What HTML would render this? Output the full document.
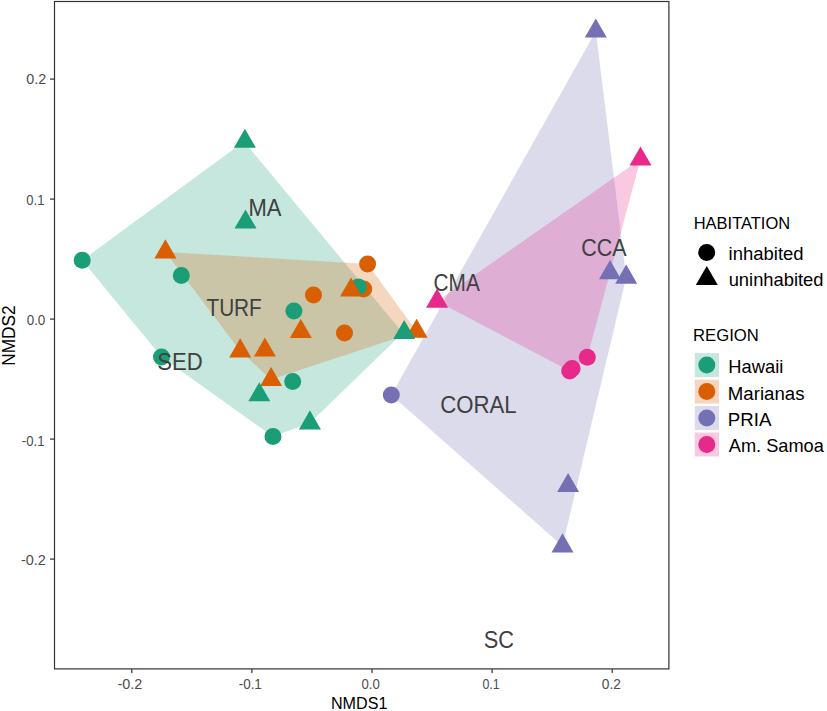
<!DOCTYPE html>
<html><head><meta charset="utf-8"><style>
html,body{margin:0;padding:0;background:#fff;}
svg{display:block;}
text{font-family:"Liberation Sans",sans-serif;}
.lab{fill:#404040;}
.ax{fill:#4D4D4D;}
.at{fill:#000;}
.lt{fill:#000;}
.ll{fill:#000;}
</style></head><body>
<svg width="827" height="711" viewBox="0 0 827 711">
<rect width="827" height="711" fill="#fff"/>
<polygon points="82.2,260.2 244.1,141.6 402.8,332.9 309.9,423.0 273.0,436.5 161.5,357.0" fill="#1B9E77" fill-opacity="0.25"/>
<polygon points="165.4,252.0 367.6,263.9 416.6,331.4 271.1,379.6 240.2,351.0" fill="#D95F02" fill-opacity="0.25"/>
<polygon points="391.3,395.0 595.8,31.3 626.2,277.3 562.5,546.0" fill="#7570B3" fill-opacity="0.25"/>
<polygon points="437.1,301.3 640.5,159.2 587.3,357.2 569.7,371.0" fill="#E7298A" fill-opacity="0.25"/>
<circle cx="313.5" cy="295.0" r="8.5" fill="#D95F02"/>
<circle cx="344.5" cy="332.9" r="8.5" fill="#D95F02"/>
<circle cx="367.6" cy="263.9" r="8.5" fill="#D95F02"/>
<circle cx="363.7" cy="288.9" r="8.5" fill="#D95F02"/>
<circle cx="82.2" cy="260.2" r="8.5" fill="#1B9E77"/>
<circle cx="181.3" cy="275.4" r="8.5" fill="#1B9E77"/>
<circle cx="161.5" cy="357.0" r="8.5" fill="#1B9E77"/>
<circle cx="293.9" cy="311.0" r="8.5" fill="#1B9E77"/>
<circle cx="292.7" cy="381.4" r="8.5" fill="#1B9E77"/>
<circle cx="273.0" cy="436.5" r="8.5" fill="#1B9E77"/>
<circle cx="358.3" cy="286.9" r="8.5" fill="#1B9E77"/>
<circle cx="391.3" cy="395.0" r="8.5" fill="#7570B3"/>
<circle cx="587.3" cy="357.2" r="8.5" fill="#E7298A"/>
<circle cx="569.7" cy="371.0" r="8.5" fill="#E7298A"/>
<circle cx="572.1" cy="368.6" r="8.5" fill="#E7298A"/>
<polygon points="165.4,239.3 176.4,258.4 154.4,258.4" fill="#D95F02"/>
<polygon points="240.2,338.3 251.2,357.4 229.2,357.4" fill="#D95F02"/>
<polygon points="264.9,337.5 275.9,356.6 253.9,356.6" fill="#D95F02"/>
<polygon points="300.8,318.9 311.8,338.0 289.8,338.0" fill="#D95F02"/>
<polygon points="271.1,366.9 282.1,386.0 260.1,386.0" fill="#D95F02"/>
<polygon points="351.0,277.5 362.0,296.6 340.0,296.6" fill="#D95F02"/>
<polygon points="416.6,318.7 427.6,337.8 405.6,337.8" fill="#D95F02"/>
<polygon points="244.9,128.8 255.9,147.8 233.9,147.8" fill="#1B9E77"/>
<polygon points="245.5,209.4 256.5,228.4 234.5,228.4" fill="#1B9E77"/>
<polygon points="259.3,382.2 270.3,401.2 248.3,401.2" fill="#1B9E77"/>
<polygon points="309.9,410.3 320.9,429.4 298.9,429.4" fill="#1B9E77"/>
<polygon points="404.2,320.0 415.2,339.1 393.2,339.1" fill="#1B9E77"/>
<polygon points="595.8,18.6 606.8,37.6 584.8,37.6" fill="#7570B3"/>
<polygon points="610.0,260.1 621.0,279.2 599.0,279.2" fill="#7570B3"/>
<polygon points="626.2,264.6 637.2,283.7 615.2,283.7" fill="#7570B3"/>
<polygon points="568.1,472.9 579.1,492.0 557.1,492.0" fill="#7570B3"/>
<polygon points="562.5,533.3 573.5,552.4 551.5,552.4" fill="#7570B3"/>
<polygon points="640.5,146.5 651.5,165.5 629.5,165.5" fill="#E7298A"/>
<polygon points="437.1,288.6 448.1,307.7 426.1,307.7" fill="#E7298A"/>
<rect x="54.5" y="1.5" width="614.4" height="667.4" fill="none" stroke="#333" stroke-width="1.2"/>
<line x1="131.8" y1="669" x2="131.8" y2="673" stroke="#333" stroke-width="1.2"/>
<line x1="251.9" y1="669" x2="251.9" y2="673" stroke="#333" stroke-width="1.2"/>
<line x1="372.0" y1="669" x2="372.0" y2="673" stroke="#333" stroke-width="1.2"/>
<line x1="492.1" y1="669" x2="492.1" y2="673" stroke="#333" stroke-width="1.2"/>
<line x1="612.2" y1="669" x2="612.2" y2="673" stroke="#333" stroke-width="1.2"/>
<line x1="50" y1="559.1" x2="54.5" y2="559.1" stroke="#333" stroke-width="1.2"/>
<line x1="50" y1="439.1" x2="54.5" y2="439.1" stroke="#333" stroke-width="1.2"/>
<line x1="50" y1="319.1" x2="54.5" y2="319.1" stroke="#333" stroke-width="1.2"/>
<line x1="50" y1="199.1" x2="54.5" y2="199.1" stroke="#333" stroke-width="1.2"/>
<line x1="50" y1="79.1" x2="54.5" y2="79.1" stroke="#333" stroke-width="1.2"/>
<circle cx="706.7" cy="252.4" r="8.5" fill="#000"/>
<polygon points="706.8,266.0 717.8,285.1 695.8,285.1" fill="#000"/>
<rect x="694.8" y="353.1" width="24.2" height="24" fill="#1B9E77" fill-opacity="0.25"/>
<circle cx="706.8" cy="365.1" r="8.5" fill="#1B9E77"/>
<rect x="694.8" y="379.6" width="24.2" height="24" fill="#D95F02" fill-opacity="0.25"/>
<circle cx="706.8" cy="391.6" r="8.5" fill="#D95F02"/>
<rect x="694.8" y="406.0" width="24.2" height="24" fill="#7570B3" fill-opacity="0.25"/>
<circle cx="706.8" cy="418.0" r="8.5" fill="#7570B3"/>
<rect x="694.8" y="432.5" width="24.2" height="24" fill="#E7298A" fill-opacity="0.25"/>
<circle cx="706.8" cy="444.5" r="8.5" fill="#E7298A"/>
<text transform="translate(248.45,216.25) scale(1.0474,1.106)" font-size="21" class="lab">MA</text>
<text transform="translate(206.45,316.45) scale(0.9894,1.106)" font-size="21" class="lab">TURF</text>
<text transform="translate(157.35,370.45) scale(1.0533,1.106)" font-size="21" class="lab">SED</text>
<text transform="translate(433.55,290.65) scale(0.9912,1.106)" font-size="21" class="lab">CMA</text>
<text transform="translate(581.25,256.15) scale(1.023,1.106)" font-size="21" class="lab">CCA</text>
<text transform="translate(440.25,412.95) scale(1.0564,1.106)" font-size="21" class="lab">CORAL</text>
<text transform="translate(483.75,648.05) scale(1.0369,1.106)" font-size="21" class="lab">SC</text>
<text transform="translate(330.95,709.05) scale(1.0076,1.044)" font-size="16" class="at">NMDS1</text>
<text transform="translate(15.45,365.84999999999997) rotate(-90) scale(1.082,1.15)" font-size="16" class="at">NMDS2</text>
<text transform="translate(693.65,228.75) scale(1.031,1.052)" font-size="16" class="lt">HABITATION</text>
<text transform="translate(693.05,341.25) scale(1.0427,1.052)" font-size="16" class="lt">REGION</text>
<text transform="translate(728.55,259.75) scale(0.9947,1.032)" font-size="18.6" class="ll">inhabited</text>
<text transform="translate(728.65,285.75) scale(0.9872,1.032)" font-size="18.6" class="ll">uninhabited</text>
<text transform="translate(728.35,372.95) scale(0.9854,1.032)" font-size="18.6" class="ll">Hawaii</text>
<text transform="translate(727.85,400.35) scale(1.0029,1.032)" font-size="18.6" class="ll">Marianas</text>
<text transform="translate(727.85,425.95) scale(1.0049,1.032)" font-size="18.6" class="ll">PRIA</text>
<text transform="translate(728.75,452.15) scale(0.9795,1.032)" font-size="18.6" class="ll">Am. Samoa</text>
<text transform="translate(117.45,688.65) scale(1.0624,1.095)" font-size="13.6" class="ax">-0.2</text>
<text transform="translate(238.65,689.05) scale(0.9918,1.095)" font-size="13.6" class="ax">-0.1</text>
<text transform="translate(361.45,689.15) scale(0.9686,1.095)" font-size="13.6" class="ax">0.0</text>
<text transform="translate(482.45,689.05) scale(0.9131,1.095)" font-size="13.6" class="ax">0.1</text>
<text transform="translate(601.85,689.05) scale(1.0118,1.095)" font-size="13.6" class="ax">0.2</text>
<text transform="translate(26.26,84.25) scale(1.0567,1.095)" font-size="13.6" class="ax">0.2</text>
<text transform="translate(26.35,205.45) scale(0.9596,1.095)" font-size="13.6" class="ax">0.1</text>
<text transform="translate(26.65,325.05) scale(0.9902,1.095)" font-size="13.6" class="ax">0.0</text>
<text transform="translate(21.85,446.45) scale(0.9659,1.095)" font-size="13.6" class="ax">-0.1</text>
<text transform="translate(20.95,565.45) scale(1.0623,1.095)" font-size="13.6" class="ax">-0.2</text>
</svg>
</body></html>
